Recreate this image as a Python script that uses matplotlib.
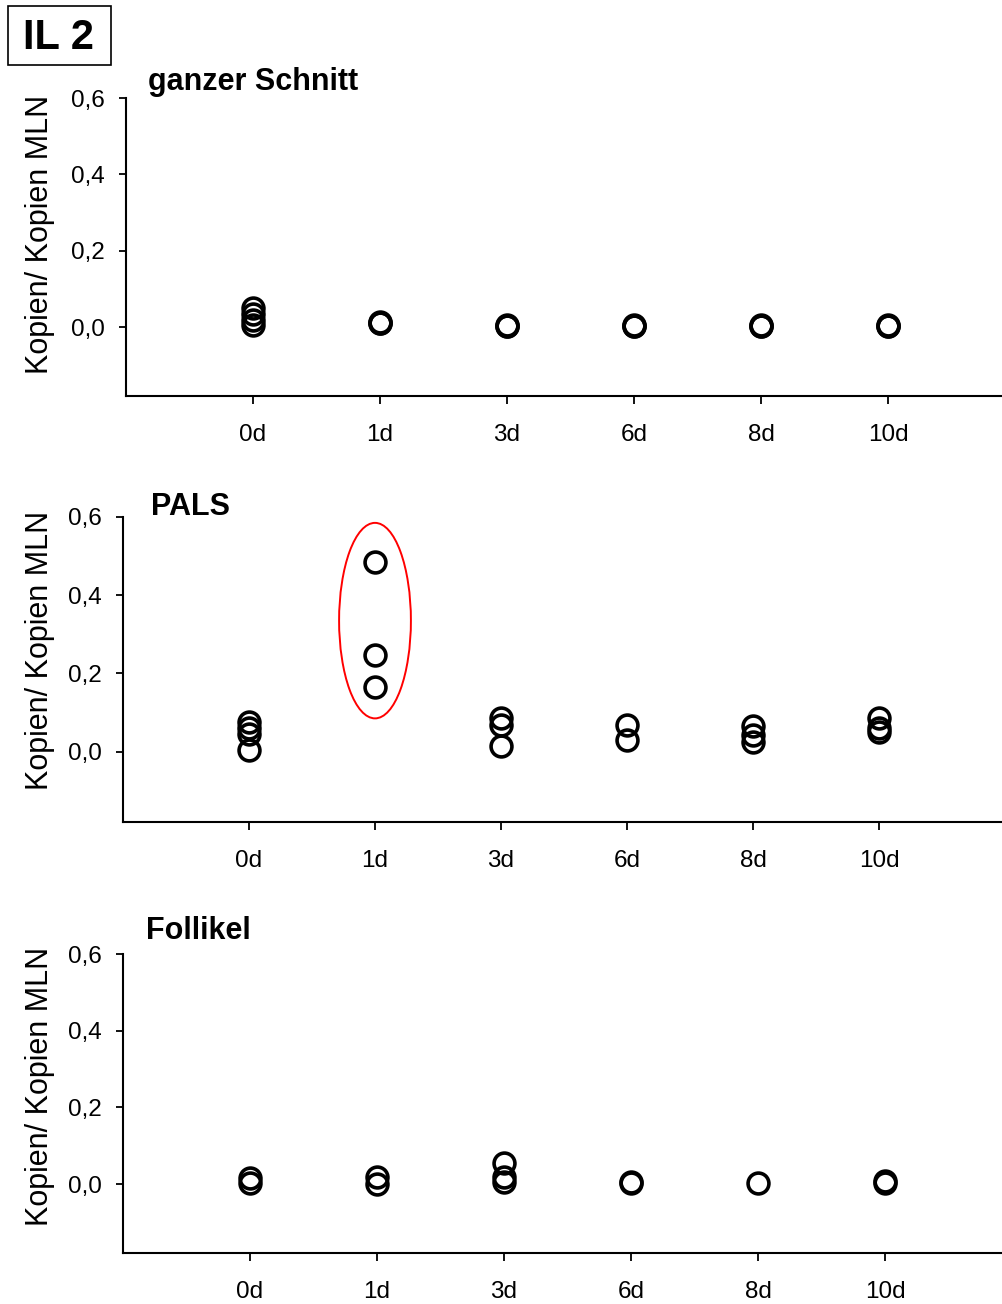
import matplotlib
matplotlib.use("Agg")
import matplotlib.pyplot as plt
from matplotlib.patches import Ellipse, Rectangle

plt.rcParams['font.family'] = ['Liberation Sans', 'DejaVu Sans']

days = ["0d", "1d", "3d", "6d", "8d", "10d"]

# copies per MLN copies, one list of replicates per day
ganzer_schnitt = [
    [0.05, 0.035, 0.02, 0.005],
    [0.015, 0.012, 0.01],
    [0.006, 0.004, 0.003],
    [0.006, 0.004, 0.003],
    [0.006, 0.004, 0.003],
    [0.006, 0.004, 0.003],
]
pals = [
    [0.077, 0.06, 0.045, 0.003],
    [0.485, 0.248, 0.166],
    [0.085, 0.068, 0.015],
    [0.068, 0.03],
    [0.066, 0.043, 0.025],
    [0.085, 0.06, 0.05],
]
follikel = [
    [0.015, 0.003],
    [0.018, 0.0],
    [0.055, 0.018, 0.005],
    [0.005, 0.002],
    [0.002],
    [0.008, 0.003],
]

W, H = 1003, 1304

# title, data, axes rect (px), title anchor (px), y label centre (px)
panels = [
    ("ganzer Schnitt", ganzer_schnitt, (126, 98, 889, 298), (148, 82), 234),
    ("PALS", pals, (123, 517, 882, 305), (151, 507), 650),
    ("Follikel", follikel, (123, 954, 889, 299), (146, 931), 1086),
]

fig = plt.figure(figsize=(W / 100, H / 100), dpi=100)

axes = []
for title, groups, (x0, top, w, h), (tx, ty), label_y in panels:
    ax = fig.add_axes([x0 / W, 1 - (top + h) / H, w / W, h / H])
    for i, vals in enumerate(groups):
        ax.plot([i + 1] * len(vals), vals, 'o', ms=15, mfc='none', mec='black', mew=2.6,
                clip_on=False)
    ax.set_xlim(0, 7)
    ax.set_ylim(-0.18, 0.6)
    ax.set_xticks(range(1, 7))
    ax.set_xticklabels(days)
    ax.set_yticks([0.0, 0.2, 0.4, 0.6])
    ax.set_yticklabels(["0,0", "0,2", "0,4", "0,6"])
    for side in ("top", "right"):
        ax.spines[side].set_visible(False)
    for side in ("left", "bottom"):
        ax.spines[side].set_linewidth(1.5)
    ax.tick_params(axis='y', direction='out', length=5, width=1.3, pad=10, labelsize=17.5)
    ax.tick_params(axis='x', direction='out', length=6, width=1.3, pad=14, labelsize=17.5)
    fig.text(tx / W, 1 - ty / H, title, fontsize=22, fontweight='bold',
             ha='left', va='center')
    fig.text(40 / W, 1 - label_y / H, "Kopien/ Kopien MLN", rotation=90,
             fontsize=22, ha='center', va='center')
    axes.append(ax)

# highlight the 1d PALS values
axes[1].add_patch(Ellipse((2, 0.335), width=0.57, height=0.5, fill=False,
                          ec='red', lw=1.4, clip_on=False))

# panel label in a box
fig.add_artist(Rectangle((8 / W, 1 - 65 / H), 103 / W, 59 / H,
                         transform=fig.transFigure, fill=False, ec='black', lw=1.2))
fig.text(58 / W, 1 - 38 / H, "IL 2", fontsize=30, fontweight='bold',
         ha='center', va='center')

fig.savefig("out.png", dpi=100)
